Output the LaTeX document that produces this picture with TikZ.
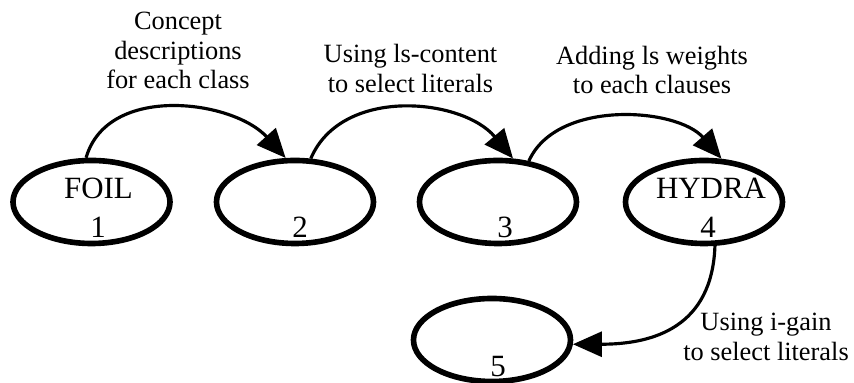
\documentclass[tikz,border=0pt]{standalone}
\usepackage{fontspec}
\setmainfont{Liberation Serif}
\usetikzlibrary{shapes.geometric,arrows.meta}

\begin{document}
\begin{tikzpicture}[
  stage/.style={ellipse, draw, line width=3.2pt, minimum width=3.14cm, minimum height=1.66cm, inner sep=0pt},
  tag/.style={anchor=base, inner sep=0pt, font=\fontsize{17.6}{20}\selectfont},
  steplabel/.style={align=center, inner sep=0pt, font=\fontsize{15}{16.7}\selectfont},
  flow/.style={-{Triangle[length=0.58cm,width=0.5cm]}, line width=1.8pt},
]
  \useasboundingbox (0,0) rectangle (17.08,7.66);

  % Stages
  \node[stage] (s1) at (1.83,3.62) {};
  \node[stage] (s2) at (5.90,3.62) {};
  \node[stage] (s3) at (9.96,3.62) {};
  \node[stage] (s4) at (14.08,3.62) {};
  \node[stage] (s5) at (9.84,0.86) {};

  % Names and numbers
  \node[tag] (foil) at ([shift={(0.14,0.06)}]s1.center) {FOIL};
  \node[tag] (hydra) at ([shift={(0.14,0.06)}]s4.center) {HYDRA};
  \node[tag] (n1) at ([shift={(0.13,-0.72)}]s1.center) {1};
  \node[tag] (n2) at ([shift={(0.10,-0.72)}]s2.center) {2};
  \node[tag] (n3) at ([shift={(0.14,-0.72)}]s3.center) {3};
  \node[tag] (n4) at ([shift={(0.08,-0.72)}]s4.center) {4};
  \node[tag] (n5) at ([shift={(0.12,-0.74)}]s5.center) {5};

  % Arrows between stages
  \draw[flow] (s1.97) to[out=74, in=132] (s2.102);
  \draw[flow] (s2.70) to[out=67, in=130] (s3.71);
  \draw[flow] (s3.53) to[out=66, in=131, looseness=0.9] (s4.68);
  \draw[flow] (s4.-76) to[out=-92, in=0, looseness=1.2] (s5.-3);

  % Labels
  \node[steplabel] (la) at (3.56,6.65) {Concept\\descriptions\\for each class};
  \node[steplabel] (lb) at (8.21,6.29) {Using ls-content\\to select literals};
  \node[steplabel] (lc) at (13.04,6.26) {Adding ls weights\\to each clauses};
  \node[steplabel] (ld) at (15.32,0.92) {Using i-gain\\to select literals};

\end{tikzpicture}
\end{document}
